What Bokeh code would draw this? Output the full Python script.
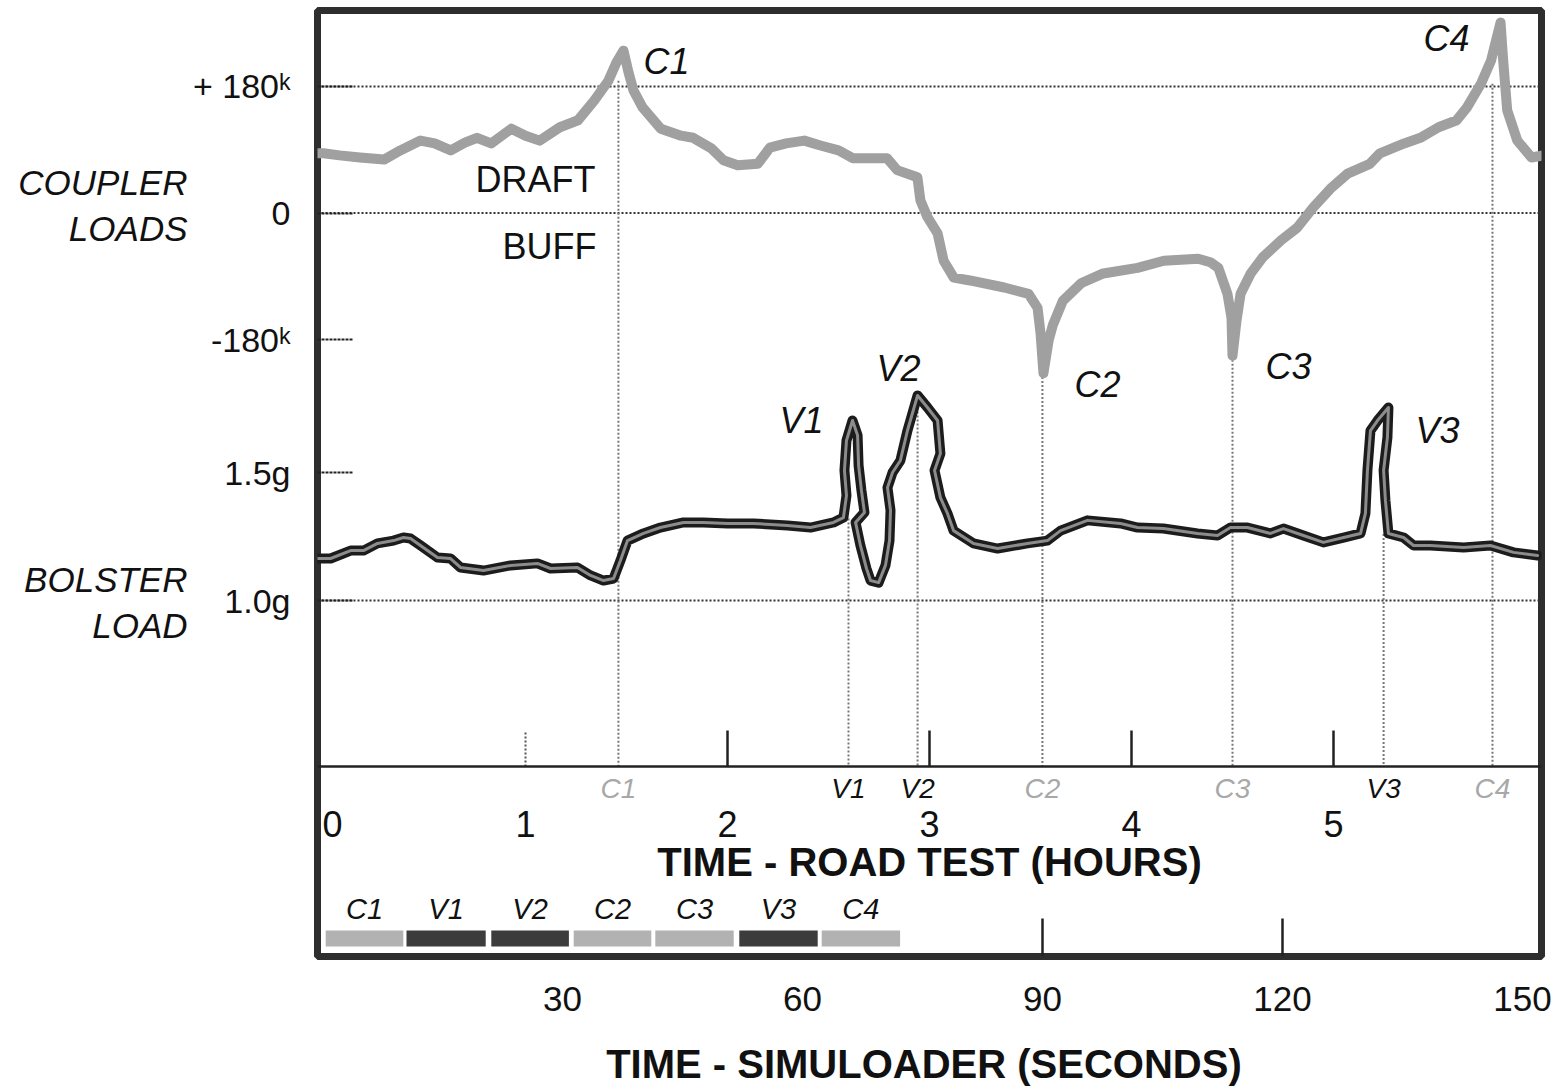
from bokeh.plotting import figure
from bokeh.models import Range1d, LinearAxis, FixedTicker, Span
from bokeh.core.properties import value
from bokeh.embed import file_html
from bokeh.resources import INLINE

# ---------------- data ----------------
coupler_hours = [-0.03, 0.00, 0.08, 0.18, 0.30, 0.38, 0.48, 0.55, 0.63, 0.70, 0.76, 0.83, 0.93, 1.00,
                 1.07, 1.17, 1.26, 1.34, 1.41, 1.45, 1.485, 1.51, 1.535, 1.58, 1.67, 1.77, 1.83, 1.92,
                 1.98, 2.05, 2.15, 2.21, 2.29, 2.38, 2.46, 2.55, 2.62, 2.79, 2.84, 2.94, 2.955, 2.99,
                 3.04, 3.07, 3.12, 3.20, 3.37, 3.49, 3.535, 3.55, 3.564, 3.59, 3.61, 3.66, 3.75, 3.86,
                 4.03, 4.16, 4.33, 4.39, 4.43, 4.475, 4.495, 4.50, 4.52, 4.54, 4.59, 4.65, 4.74, 4.82,
                 4.90, 4.99, 5.07, 5.18, 5.23, 5.35, 5.43, 5.52, 5.61, 5.66, 5.73, 5.78, 5.827, 5.84,
                 5.86, 5.91, 5.98, 6.04]
coupler_kips = [85, 85, 82, 79, 76, 89, 103, 99, 89, 100, 107, 99, 120, 110,
                103, 122, 132, 160, 188, 214, 231, 200, 174, 150, 120, 110, 107, 92,
                75, 68, 70, 93, 99, 103, 96, 89, 78, 78, 61, 51, 18, -6,
                -29, -68, -92, -96, -106, -115, -135, -172, -228, -181, -160, -125, -100, -86,
                -78, -68, -65, -70, -78, -115, -149, -203, -153, -115, -86, -63, -39, -21,
                8, 36, 56, 70, 85, 99, 107, 122, 132, 150, 184, 217, 271, 217,
                146, 103, 79, 82]

bolster_hours = [-0.03, 0.035, 0.134, 0.198, 0.267, 0.347, 0.396, 0.431, 0.480, 0.564,
                 0.629, 0.678, 0.792, 0.926, 1.059, 1.124, 1.257, 1.322, 1.386, 1.436,
                 1.470, 1.505, 1.584, 1.668, 1.782, 1.881, 2.000, 2.129, 2.297, 2.411,
                 2.525, 2.574, 2.589, 2.579, 2.589, 2.619, 2.644, 2.649, 2.663, 2.678,
                 2.634, 2.658, 2.688, 2.708, 2.748, 2.782, 2.802, 2.807, 2.792, 2.817,
                 2.856, 2.891, 2.941, 2.990, 3.040, 3.054, 3.025, 3.054, 3.089, 3.119,
                 3.218, 3.337, 3.485, 3.584, 3.649, 3.782, 3.946, 4.030, 4.158, 4.327,
                 4.426, 4.490, 4.574, 4.688, 4.752, 4.851, 4.950, 5.050, 5.134, 5.158,
                 5.168, 5.183, 5.218, 5.272, 5.267, 5.248, 5.257, 5.272, 5.347, 5.396,
                 5.480, 5.644, 5.777, 5.891, 6.010]
bolster_g = [1.164, 1.164, 1.195, 1.195, 1.223, 1.234, 1.246, 1.242, 1.215, 1.168,
             1.164, 1.129, 1.117, 1.137, 1.145, 1.125, 1.129, 1.098, 1.078, 1.086,
             1.156, 1.234, 1.262, 1.285, 1.305, 1.305, 1.301, 1.301, 1.293, 1.285,
             1.305, 1.324, 1.410, 1.508, 1.625, 1.703, 1.645, 1.527, 1.430, 1.344,
             1.305, 1.215, 1.125, 1.078, 1.070, 1.137, 1.234, 1.352, 1.441, 1.500,
             1.547, 1.664, 1.801, 1.754, 1.703, 1.574, 1.508, 1.402, 1.340, 1.273,
             1.223, 1.203, 1.223, 1.234, 1.273, 1.313, 1.301, 1.285, 1.281, 1.262,
             1.254, 1.285, 1.285, 1.262, 1.281, 1.254, 1.227, 1.246, 1.262, 1.340,
             1.508, 1.664, 1.703, 1.754, 1.637, 1.508, 1.391, 1.262, 1.246, 1.215,
             1.215, 1.207, 1.215, 1.188, 1.176]

event_names = ["C1", "V1", "V2", "C2", "C3", "V3", "C4"]
event_hours = [1.460, 2.599, 2.941, 3.559, 4.500, 5.248, 5.787]
event_series = ["coupler", "bolster", "bolster", "coupler", "coupler", "bolster", "coupler"]
event_top = [188, 1.32, 1.77, -205, -203, 1.26, 184]   # kips for coupler, g for bolster

segment_names = ["C1", "V1", "V2", "C2", "C3", "V3", "C4"]
segment_start_s = [0.4, 10.5, 21.1, 31.4, 41.6, 52.1, 62.4]
segment_end_s = [10.1, 20.4, 30.8, 41.1, 51.4, 61.9, 72.2]

hour_ticks = [0, 1, 2, 3, 4, 5]
second_ticks = [30, 60, 90, 120, 150]
coupler_ticks = [180, 0, -180]
coupler_tick_labels = ["+ 180\u1d4f", "0", "-180\u1d4f"]
bolster_ticks = [1.5, 1.0]
bolster_tick_labels = ["1.5g", "1.0g"]

# ---------------- layout / geometry ----------------
FONT = "Liberation Sans"
W, H = 1557, 1090
FL, FR, FT, FB = 317, 1541, 10, 956
HOUR0_PX, PX_PER_HOUR = 323.0, 202.0
SEC0_PX, PX_PER_SEC = 322.0, 8.0
G1_PX, PX_PER_G = 600.0, 256.0
K0_PX, PX_PER_K = 212.5, 0.7028
BASE_PX = 766


def h_at(x):
    return (x - HOUR0_PX) / PX_PER_HOUR


def s_at(x):
    return (x - SEC0_PX) / PX_PER_SEC


def g_at(y):
    return 1.0 + (G1_PX - y) / PX_PER_G


def k_at(y):
    return (K0_PX - y) / PX_PER_K


def k_to_g(k):
    return g_at(K0_PX - k * PX_PER_K)


p = figure(width=W, height=H, output_backend="svg", toolbar_location=None,
           x_range=Range1d(h_at(FL), h_at(FR)), y_range=Range1d(g_at(FB), g_at(FT)),
           x_axis_location=None, y_axis_location=None,
           min_border_left=FL, min_border_right=W - FR, min_border_top=FT, min_border_bottom=H - FB)
p.extra_x_ranges = {"sec": Range1d(s_at(FL), s_at(FR))}
p.extra_y_ranges = {"kips": Range1d(k_at(FB), k_at(FT))}
p.xgrid.visible = False
p.ygrid.visible = False
p.outline_line_color = "#2e2e2e"
p.outline_line_width = 7
p.background_fill_color = "white"
p.border_fill_color = "white"

# dotted grid lines
for k in (180, 0):
    p.add_layout(Span(location=k, dimension="width", y_range_name="kips", line_color="#333333",
                      line_width=2, line_dash="2 2", level="underlay"))
p.add_layout(Span(location=1.0, dimension="width", line_color="#333333", line_width=2,
                  line_dash="2 2", level="underlay"))
# road-test time axis line inside the frame
p.add_layout(Span(location=g_at(BASE_PX), dimension="width", line_color="#222222", line_width=2.5))

# left tick labels
tick_pos = [k_to_g(k) for k in coupler_ticks] + list(bolster_ticks)
tick_txt = coupler_tick_labels + bolster_tick_labels
axA = LinearAxis(ticker=FixedTicker(ticks=tick_pos, minor_ticks=[]),
                 major_label_overrides=dict(zip(tick_pos, tick_txt)))
axA.axis_line_color = None
axA.major_tick_in = 36
axA.major_tick_out = 0
axA.major_tick_line_color = "#222222"
axA.major_tick_line_width = 2
axA.major_tick_line_dash = "3 1"
axA.minor_tick_line_color = None
axA.major_label_standoff = 27
axA.major_label_text_font = FONT
axA.major_label_text_font_size = "34px"
axA.major_label_text_color = "#111111"
p.add_layout(axA, "left")

# series names (placed beside their scales)
name_pos = [g_at(205), g_at(602)]
axB = LinearAxis(ticker=FixedTicker(ticks=name_pos, minor_ticks=[]),
                 major_label_overrides=dict(zip(name_pos, ["COUPLER\nLOADS", "BOLSTER\nLOAD"])))
axB.axis_line_color = None
axB.major_tick_line_color = None
axB.minor_tick_line_color = None
axB.major_tick_in = 0
axB.major_tick_out = 0
axB.major_label_standoff = 2
axB.major_label_text_font = FONT
axB.major_label_text_font_size = "35px"
axB.major_label_text_font_style = "italic"
axB.major_label_text_color = "#111111"
p.add_layout(axB, "left")

# simuloader seconds axis below the frame
axS = LinearAxis(x_range_name="sec", ticker=FixedTicker(ticks=second_ticks, minor_ticks=[]),
                 axis_label="TIME -  SIMULOADER (SECONDS)")
axS.axis_line_color = None
axS.major_tick_line_color = None
axS.minor_tick_line_color = None
axS.major_tick_in = 0
axS.major_tick_out = 0
axS.major_label_standoff = 30
axS.major_label_text_font = FONT
axS.major_label_text_font_size = "35px"
axS.major_label_text_color = "#111111"
axS.axis_label_text_font = FONT
axS.axis_label_text_font_size = "40px"
axS.axis_label_text_font_style = "bold"
axS.axis_label_text_color = "#111111"
axS.axis_label_standoff = 28
p.add_layout(axS, "below")

# inner tick marks of the seconds axis
sec_inner = [90, 120]
p.segment(x0=sec_inner, x1=sec_inner, y0=[g_at(FB)] * 2, y1=[g_at(FB - 38)] * 2,
          x_range_name="sec", line_color="#222222", line_width=2.5)

# road-test hour ticks and labels
up_ticks = hour_ticks[1:]
p.segment(x0=up_ticks[:1], x1=up_ticks[:1], y0=[g_at(BASE_PX)], y1=[g_at(BASE_PX - 36)],
          line_color="#555555", line_width=2, line_dash="2 2")
p.segment(x0=up_ticks[1:], x1=up_ticks[1:], y0=[g_at(BASE_PX)] * (len(up_ticks) - 1),
          y1=[g_at(BASE_PX - 36)] * (len(up_ticks) - 1), line_color="#222222", line_width=2.5)
p.text(x=hour_ticks, y=[g_at(823)] * len(hour_ticks), text=[str(t) for t in hour_ticks],
       x_offset=[9] + [0] * (len(hour_ticks) - 1),
       text_font=value(FONT), text_font_size="36px", text_align="center",
       text_baseline="middle", text_color="#111111")
p.text(x=[(p.x_range.start + p.x_range.end) / 2], y=[g_at(861)], text=["TIME - ROAD TEST (HOURS)"],
       text_font=value(FONT), text_font_size="40px", text_font_style="bold",
       text_align="center", text_baseline="middle", text_color="#111111")

# event guide lines
for name, h, ser, top in zip(event_names, event_hours, event_series, event_top):
    if ser == "coupler":
        p.segment(x0=[h], x1=[h], y0=[top], y1=[k_at(BASE_PX)], y_range_name="kips",
                  line_color="#777777", line_width=2, line_dash="2 2")
    else:
        p.segment(x0=[h], x1=[h], y0=[top], y1=[g_at(BASE_PX)],
                  line_color="#777777", line_width=2, line_dash="2 2")

# event labels under the hour axis
p.text(x=event_hours, y=[g_at(788)] * len(event_hours), text=event_names,
       text_font=value(FONT), text_font_size="28px", text_font_style="italic",
       text_align="center", text_baseline="middle",
       text_color=["#a8a8a8" if s == "coupler" else "#111111" for s in event_series])

# curves
p.line(coupler_hours, coupler_kips, y_range_name="kips", line_color="#a0a0a0", line_width=10,
       line_join="round", line_cap="round")
p.line(bolster_hours, bolster_g, line_color="#1c1c1c", line_width=10, line_join="round",
       line_cap="round")
p.line(bolster_hours, bolster_g, line_color="#8c8c8c", line_width=3, line_join="round",
       line_cap="round")

# curve annotations (pixel positions converted to data units)
ann = [("C1", 666, 61, "italic"), ("V1", 801, 420, "italic"), ("V2", 898, 368, "italic"),
       ("C2", 1097, 384, "italic"), ("C3", 1288, 366, "italic"), ("V3", 1437, 430, "italic"),
       ("C4", 1446, 38, "italic"), ("DRAFT", 535, 179, "normal"), ("BUFF", 549, 246, "normal")]
for txt, xpx, ypx, style in ann:
    p.text(x=[h_at(xpx)], y=[g_at(ypx)], text=[txt], text_font=value(FONT),
           text_font_size="36px", text_font_style=style, text_align="center",
           text_baseline="middle", text_color="#111111")

# simulator sequence bars
seg_mid = [(a + b) / 2 for a, b in zip(segment_start_s, segment_end_s)]
p.quad(left=segment_start_s, right=segment_end_s, bottom=[g_at(946)] * 7, top=[g_at(930)] * 7,
       x_range_name="sec", line_color=None,
       fill_color=["#b2b2b2" if n.startswith("C") else "#3c3c3c" for n in segment_names])
p.text(x=seg_mid, y=[g_at(908)] * 7, text=segment_names, x_range_name="sec",
       text_font=value(FONT), text_font_size="29px", text_font_style="italic",
       text_align="center", text_baseline="middle", text_color="#111111")

open("out.html", "w").write(file_html(p, INLINE))
